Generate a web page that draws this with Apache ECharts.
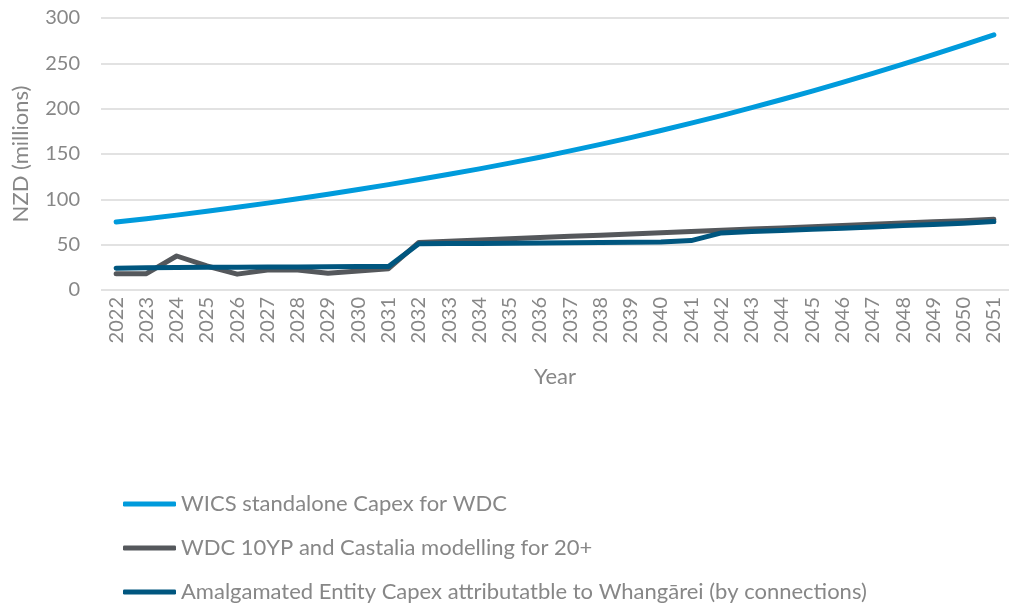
<!DOCTYPE html>
<html>
<head>
<meta charset="utf-8">
<title>Capex chart</title>
<script src="https://cdn.jsdelivr.net/npm/echarts@6/dist/echarts.min.js"></script>
<style>
  html, body { margin: 0; padding: 0; background: #fff; }
  #main { width: 1009px; height: 608px; }
</style>
</head>
<body>
<div id="main"></div>
<script>
// years on the x axis
var years = ['2022','2023','2024','2025','2026','2027','2028','2029','2030','2031',
  '2032','2033','2034','2035','2036','2037','2038','2039','2040','2041',
  '2042','2043','2044','2045','2046','2047','2048','2049','2050','2051'];

// WICS standalone Capex for WDC
var wicsCapex = [75, 78.7, 82.6, 86.8, 91.2, 95.8, 100.6, 105.6, 110.8, 116.2,
  121.8, 127.6, 133.6, 139.9, 146.5, 153.4, 160.6, 168.1, 175.9, 184.0,
  192.4, 201.1, 210.1, 219.4, 229.0, 238.9, 249.1, 259.6, 270.4, 281.5];

// WDC 10YP and Castalia modelling for 20+
var wdcModel = [18, 18, 37.5, 26.5, 17.5, 22, 22, 18.5, 21, 23.5,
  52.5, 53.8, 55.2, 56.5, 57.8, 59.2, 60.5, 61.9, 63.2, 64.5,
  65.8, 67.2, 68.5, 69.8, 71.2, 72.5, 73.9, 75.2, 76.5, 77.9];

// Amalgamated Entity Capex attributable to Whangarei
var amalgamated = [24, 24.5, 24.8, 25, 25.2, 25.4, 25.5, 25.6, 25.8, 26,
  51, 51.2, 51.4, 51.6, 51.8, 52, 52.3, 52.6, 53, 54.5,
  63, 64.4, 65.6, 66.9, 68.2, 69.6, 71, 72.3, 73.7, 75.5];

var seriesNames = [
  'WICS standalone Capex for WDC',
  'WDC 10YP and Castalia modelling for 20+',
  'Amalgamated Entity Capex attributatble to Whangārei (by connections)'
];

var textColor = '#878787';
var font = 'Lato, "Open Sans", sans-serif';

var chart = echarts.init(document.getElementById('main'), null, {renderer: 'canvas'});

function lineSeries(name, data, color) {
  return {
    name: name,
    type: 'line',
    data: data,
    showSymbol: false,
    symbol: 'none',
    lineStyle: { width: 5, color: color, cap: 'round', join: 'round' },
    itemStyle: { color: color },
    emphasis: { disabled: true }
  };
}

var option = {
  animation: false,
  textStyle: { fontFamily: font },
  grid: { left: 101, right: -10, top: 18, bottom: 318, containLabel: false },
  legend: {
    orient: 'vertical',
    left: 123,
    top: 493,
    padding: 0,
    itemWidth: 53,
    itemHeight: 5,
    itemGap: 22,
    icon: 'roundRect',
    textStyle: { color: textColor, fontSize: 22, fontFamily: font, lineHeight: 22 },
    data: seriesNames
  },
  xAxis: {
    type: 'category',
    data: years,
    boundaryGap: true,
    axisLine: { show: false },
    axisTick: { show: false },
    axisLabel: { rotate: 90, color: textColor, fontSize: 20, margin: 7, interval: 0 },
    name: 'Year',
    nameLocation: 'middle',
    nameGap: 76,
    nameTextStyle: { color: textColor, fontSize: 22 }
  },
  yAxis: {
    type: 'value',
    min: 0,
    max: 300,
    interval: 50,
    axisLine: { show: false },
    axisTick: { show: false },
    axisLabel: { color: textColor, fontSize: 20, margin: 21 },
    splitLine: { lineStyle: { color: '#d9d9d9', width: 1.5 } },
    name: 'NZD (millions)',
    nameLocation: 'middle',
    nameRotate: 90,
    nameGap: 69,
    nameTextStyle: { color: textColor, fontSize: 22 }
  },
  series: [
    lineSeries(seriesNames[0], wicsCapex, '#009bdc'),
    lineSeries(seriesNames[1], wdcModel, '#55585c'),
    lineSeries(seriesNames[2], amalgamated, '#00567f')
  ]
};

chart.setOption(option);
</script>
</body>
</html>
